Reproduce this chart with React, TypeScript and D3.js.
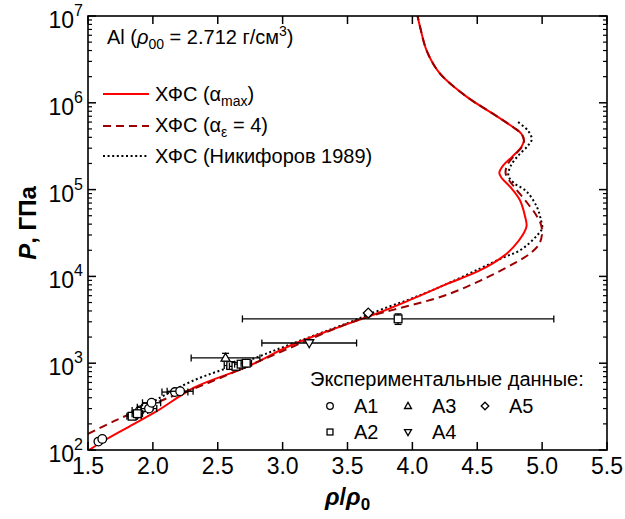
import React from "react";
import * as d3 from "d3";

// ---------- data ----------
// Curves: [rho/rho0, P (GPa)] in order along the curve
const curveAlphaMax: [number, number][] = [
  [1.5, 98], [1.6, 122], [1.8, 180], [2.03, 280], [2.32, 525], [2.72, 900],
  [3.06, 1600], [3.4, 2500], [3.75, 3860], [4.0, 5500], [4.25, 8000],
  [4.52, 11700], [4.7, 17000], [4.78, 21900], [4.85, 30000], [4.88, 38000],
  [4.87, 48000], [4.83, 75000], [4.76, 105000], [4.69, 135000], [4.67, 155000],
  [4.7, 190000], [4.77, 240000], [4.84, 310000], [4.86, 370000], [4.84, 440000],
  [4.78, 520000], [4.62, 750000], [4.42, 1.17e6], [4.21, 2.2e6], [4.11, 4e6],
  [4.06, 7.4e6], [4.04, 1e7],
];
const curveAlphaEps4: [number, number][] = [
  [1.5, 153], [1.7, 215], [1.9, 290], [2.1, 390], [2.36, 540], [2.65, 820],
  [3.0, 1380], [3.5, 2850], [3.75, 3750], [4.0, 4700], [4.26, 6100],
  [4.52, 8900], [4.78, 14000], [4.92, 19000], [4.98, 24000], [5.0, 32000],
  [4.99, 40000], [4.95, 52000], [4.87, 75000], [4.78, 110000], [4.72, 150000],
  [4.73, 190000], [4.79, 250000], [4.85, 320000], [4.86, 370000], [4.84, 440000],
  [4.78, 520000], [4.62, 750000], [4.42, 1.17e6], [4.21, 2.2e6], [4.11, 4e6],
  [4.06, 7.4e6], [4.04, 1e7],
];
const curveNikiforov: [number, number][] = [
  [1.8, 245], [2.0, 360], [2.3, 620], [2.72, 1050], [3.06, 1650], [3.5, 2900],
  [3.75, 4100], [4.0, 5600], [4.25, 8000], [4.52, 12300], [4.7, 16500],
  [4.83, 20000], [4.96, 29500], [5.0, 36000], [4.99, 45000], [4.96, 63000],
  [4.88, 95000], [4.78, 120000], [4.74, 145000], [4.76, 190000], [4.82, 250000],
  [4.89, 320000], [4.92, 380000], [4.89, 480000], [4.8, 620000],
];

// Experimental points: [rho/rho0, P, xerr, Plow, Phigh]
const dataA1: number[][] = [
  [1.58, 125, 0.02, 0, 0], [1.61, 134, 0.02, 0, 0],
  [1.86, 250, 0.05, 0, 0], [1.9, 285, 0.06, 0, 0], [1.94, 310, 0.06, 0, 0],
  [1.97, 300, 0.06, 0, 0], [1.99, 350, 0.07, 0, 0],
  [2.17, 465, 0.1, 0, 0], [2.21, 475, 0.1, 0, 0],
];
const dataA2: number[][] = [
  [1.84, 245, 0.04, 0, 0], [1.88, 262, 0.04, 0, 0],
  [2.6, 940, 0.05, 0, 0], [2.64, 920, 0.05, 0, 0], [2.68, 975, 0.05, 0, 0],
  [2.72, 1000, 0.04, 0, 0],
  [3.89, 3240, 1.2, 2800, 3700],
];
const dataA3: number[][] = [[2.56, 1150, 0.265, 1050, 1300]];
const dataA4: number[][] = [[3.205, 1710, 0.365, 0, 0]];
const dataA5: number[][] = [[3.66, 3780, 0, 0, 0]];

const xTickValues = [1.5, 2.0, 2.5, 3.0, 3.5, 4.0, 4.5, 5.0, 5.5];
const yExponents = [2, 3, 4, 5, 6, 7];

const legendCurveLabels = ["ХФС (α", "ХФС (α", "ХФС (Никифоров 1989)"];

// ---------- layout ----------
const W = 625, H = 519;
const L = 88, R = 607, T = 16, B = 450;
const FONT = "'Liberation Sans', Arial, sans-serif";

const x = d3.scaleLinear().domain([1.5, 5.5]).range([L, R]);
const y = d3.scaleLog().domain([1e2, 1e7]).range([B, T]);

const line = d3
  .line<[number, number]>()
  .x((d) => x(d[0]))
  .y((d) => y(d[1]))
  .curve(d3.curveCatmullRom.alpha(0.5));

type Shape = "circle" | "square" | "up" | "down" | "diamond";

function Marker({ cx, cy, shape, s }: { cx: number; cy: number; shape: Shape; s: number }) {
  const common = { fill: "#fff", stroke: "#000", strokeWidth: 1.3 };
  if (shape === "circle") return <circle cx={cx} cy={cy} r={s} {...common} />;
  if (shape === "square")
    return <rect x={cx - s * 0.9} y={cy - s * 0.9} width={s * 1.8} height={s * 1.8} {...common} />;
  if (shape === "up")
    return (
      <path
        d={`M${cx},${cy - s * 1.1}L${cx + s * 1.05},${cy + s * 0.75}L${cx - s * 1.05},${cy + s * 0.75}Z`}
        {...common}
      />
    );
  if (shape === "down")
    return (
      <path
        d={`M${cx},${cy + s * 1.1}L${cx + s * 1.05},${cy - s * 0.75}L${cx - s * 1.05},${cy - s * 0.75}Z`}
        {...common}
      />
    );
  return (
    <path
      d={`M${cx},${cy - s * 1.15}L${cx + s * 1.15},${cy}L${cx},${cy + s * 1.15}L${cx - s * 1.15},${cy}Z`}
      {...common}
    />
  );
}

function Series({ data, shape }: { data: number[][]; shape: Shape }) {
  return (
    <g>
      {data.map((d, i) => {
        const cx = x(d[0]);
        const cy = y(d[1]);
        const cap = 3.5;
        return (
          <g key={i}>
            {d[2] > 0 && (
              <g stroke="#000" strokeWidth={1.3}>
                <line x1={x(d[0] - d[2])} x2={x(d[0] + d[2])} y1={cy} y2={cy} />
                <line x1={x(d[0] - d[2])} x2={x(d[0] - d[2])} y1={cy - cap} y2={cy + cap} />
                <line x1={x(d[0] + d[2])} x2={x(d[0] + d[2])} y1={cy - cap} y2={cy + cap} />
              </g>
            )}
            {d[3] > 0 && (
              <g stroke="#000" strokeWidth={1.3}>
                <line x1={cx} x2={cx} y1={y(d[3])} y2={y(d[4])} />
                <line x1={cx - cap} x2={cx + cap} y1={y(d[3])} y2={y(d[3])} />
                <line x1={cx - cap} x2={cx + cap} y1={y(d[4])} y2={y(d[4])} />
              </g>
            )}
            <Marker cx={cx} cy={cy} shape={shape} s={4.3} />
          </g>
        );
      })}
    </g>
  );
}

export default function App() {
  const minorY: number[] = [];
  for (let k = 2; k < 7; k++) for (let m = 2; m <= 9; m++) minorY.push(m * Math.pow(10, k));

  return (
    <svg
      width={W}
      height={H}
      style={{ position: "absolute", left: 0, top: 0, background: "#fff" }}
      fontFamily={FONT}
    >
      <defs>
        <clipPath id="plotclip">
          <rect x={L} y={T} width={R - L} height={B - T} />
        </clipPath>
      </defs>

      {/* curves */}
      <g clipPath="url(#plotclip)" fill="none">
        <path d={line(curveNikiforov) || ""} stroke="#000" strokeWidth={2} strokeDasharray="2,2.6" />
        <path d={line(curveAlphaMax) || ""} stroke="#ff0000" strokeWidth={2} />
        <path d={line(curveAlphaEps4) || ""} stroke="#9b0000" strokeWidth={2} strokeDasharray="8,5" />
      </g>

      {/* data */}
      <Series data={dataA1} shape="circle" />
      <Series data={dataA2} shape="square" />
      <Series data={dataA3} shape="up" />
      <Series data={dataA4} shape="down" />
      <Series data={dataA5} shape="diamond" />

      {/* frame */}
      <rect x={L} y={T} width={R - L} height={B - T} fill="none" stroke="#000" strokeWidth={1.6} />

      {/* x ticks */}
      {xTickValues.map((v) => (
        <g key={v}>
          <line x1={x(v)} x2={x(v)} y1={B} y2={B - 8} stroke="#000" strokeWidth={1.5} />
          <line x1={x(v)} x2={x(v)} y1={T} y2={T + 8} stroke="#000" strokeWidth={1.5} />
          <text x={x(v)} y={B + 24} fontSize={23} textAnchor="middle">
            {v.toFixed(1)}
          </text>
        </g>
      ))}

      {/* y ticks */}
      {yExponents.map((e) => {
        const yy = y(Math.pow(10, e));
        return (
          <g key={e}>
            <line x1={L} x2={L + 8} y1={yy} y2={yy} stroke="#000" strokeWidth={1.5} />
            <line x1={R} x2={R - 8} y1={yy} y2={yy} stroke="#000" strokeWidth={1.5} />
            <text x={L - 5} y={yy + 12} fontSize={23} textAnchor="end">
              10
              <tspan fontSize={16} dy={-12}>
                {e}
              </tspan>
            </text>
          </g>
        );
      })}
      {minorY.map((v) => (
        <g key={v}>
          <line x1={L} x2={L + 4} y1={y(v)} y2={y(v)} stroke="#000" strokeWidth={1.2} />
          <line x1={R} x2={R - 4} y1={y(v)} y2={y(v)} stroke="#000" strokeWidth={1.2} />
        </g>
      ))}

      {/* axis titles */}
      <text x={(L + R) / 2} y={505} fontSize={24} fontWeight="bold" textAnchor="middle">
        <tspan fontStyle="italic">ρ</tspan>/<tspan fontStyle="italic">ρ</tspan>
        <tspan fontSize={17} dy={5}>0</tspan>
      </text>
      <text
        transform={`translate(36,${(T + B) / 2 - 10}) rotate(-90)`}
        fontSize={24}
        fontWeight="bold"
        textAnchor="middle"
      >
        <tspan fontStyle="italic">P</tspan>, ГПа
      </text>

      {/* title annotation */}
      <text x={107} y={44} fontSize={20}>
        Al (<tspan fontStyle="italic">ρ</tspan>
        <tspan fontSize={14} dy={5}>00</tspan>
        <tspan dy={-5}> = 2.712 г/см</tspan>
        <tspan fontSize={14} dy={-8}>3</tspan>
        <tspan dy={8}>)</tspan>
      </text>

      {/* curve legend */}
      <line x1={103} x2={149} y1={94} y2={94} stroke="#ff0000" strokeWidth={2} />
      <line x1={103} x2={149} y1={126} y2={126} stroke="#9b0000" strokeWidth={2} strokeDasharray="8,5" />
      <line x1={103} x2={149} y1={156} y2={156} stroke="#000" strokeWidth={2} strokeDasharray="2,2.6" />
      <text x={155} y={101} fontSize={20}>
        {legendCurveLabels[0]}
        <tspan fontSize={14} dy={5}>max</tspan>
        <tspan dy={-5}>)</tspan>
      </text>
      <text x={155} y={132} fontSize={20}>
        {legendCurveLabels[1]}
        <tspan fontSize={14} dy={5}>ε</tspan>
        <tspan dy={-5}> = 4)</tspan>
      </text>
      <text x={155} y={163} fontSize={20}>
        {legendCurveLabels[2]}
      </text>

      {/* experimental legend */}
      <text x={310} y={386} fontSize={20}>
        Экспериментальные данные:
      </text>
      {[
        { s: "circle" as Shape, t: "A1", cx: 330, cy: 406 },
        { s: "up" as Shape, t: "A3", cx: 408, cy: 406 },
        { s: "diamond" as Shape, t: "A5", cx: 485, cy: 406 },
        { s: "square" as Shape, t: "A2", cx: 330, cy: 432 },
        { s: "down" as Shape, t: "A4", cx: 408, cy: 432 },
      ].map((it) => (
        <g key={it.t}>
          <Marker cx={it.cx} cy={it.cy} shape={it.s} s={3.3} />
          <text x={it.cx + 24} y={it.cy + 7} fontSize={20}>
            {it.t}
          </text>
        </g>
      ))}
    </svg>
  );
}
